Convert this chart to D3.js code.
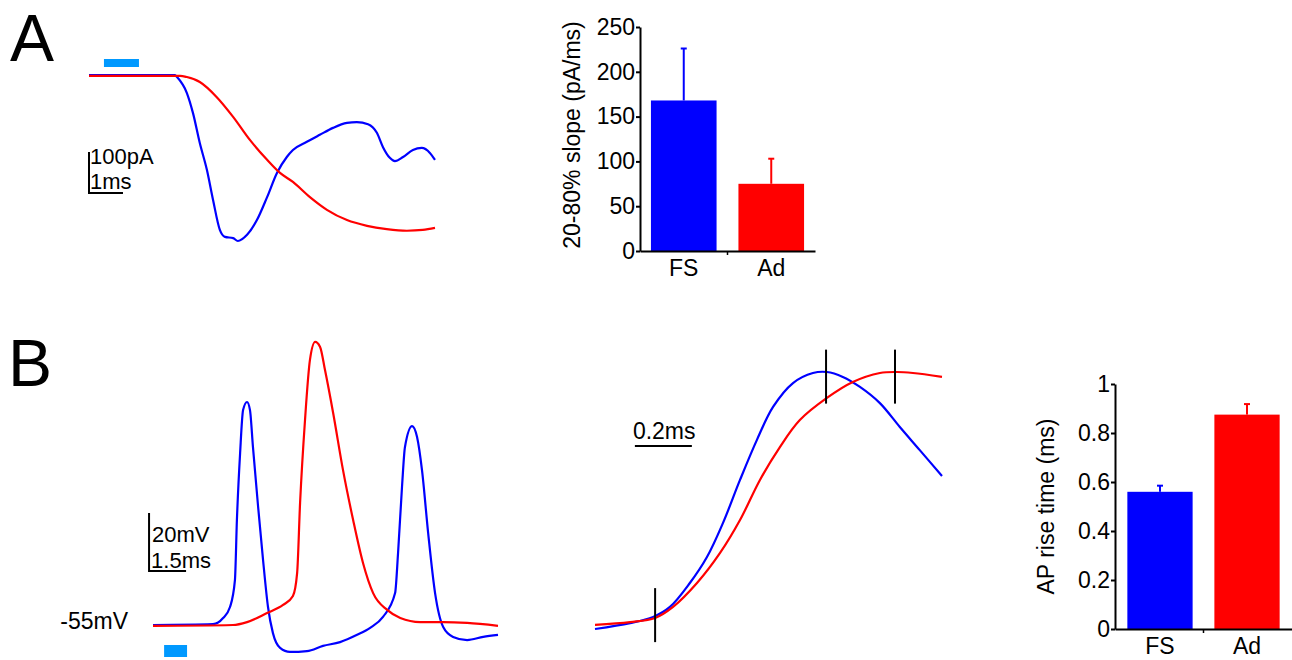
<!DOCTYPE html>
<html>
<head>
<meta charset="utf-8">
<script src="https://cdn.jsdelivr.net/npm/d3@7"></script>
<style>
  body { margin: 0; background: #fff; }
  svg { display: block; font-family: "Liberation Sans", Arial, sans-serif; }
</style>
</head>
<body>
<div id="chart"></div>
<script>
// ---- data ----
// panel A: evoked currents, [time ms, current pA]
var curA_FS = [[0,0],[2.53,0],[2.59,-5],[2.88,-44],[3.06,-93],[3.26,-166],[3.47,-232],[3.65,-305],[3.85,-378],[4.0,-395],
  [4.24,-398],[4.38,-405],[4.65,-390],[4.94,-354],[5.24,-298],[5.53,-239],[5.82,-200],[6.0,-183],[6.41,-163],[6.79,-146],
  [7.18,-129],[7.59,-117],[7.88,-115],[8.21,-120],[8.47,-141],[8.65,-176],[8.85,-202],[9.0,-210],[9.24,-200],[9.53,-183],
  [9.79,-178],[10.03,-190],[10.18,-207]];
var curA_Ad = [[0,-2],[2.68,-2],[2.88,-5],[3.26,-17],[3.76,-54],[4.24,-102],[4.74,-159],[5.24,-207],[5.62,-239],[6.0,-261],
  [6.5,-298],[7.0,-329],[7.59,-354],[8.18,-368],[8.76,-376],[9.35,-380],[9.82,-378],[10.18,-373]];
var stimA = [0.44, 1.47];

// panel A bars
var groups = ["FS", "Ad"];
var slopeMean = [168, 75];
var slopeErr = [58, 28];
var slopeTicks = [0, 50, 100, 150, 200, 250];

// panel B: membrane potential, [time ms, mV]
var vB_FS = [[0,-55],[2.43,-54.7],[2.84,-52.6],[3.12,-48.8],[3.32,-39.5],[3.40,-18.8],[3.53,4.3],[3.65,19.1],[3.81,21.9],
  [3.93,19.1],[4.05,6.4],[4.26,-14.3],[4.46,-32.6],[4.66,-48.8],[4.86,-57.8],[5.15,-62.9],[5.55,-64.3],[6.24,-64.0],
  [6.89,-62.2],[7.58,-60.9],[8.27,-58.4],[8.80,-56.0],[9.32,-52.2],[9.81,-44.0],[9.93,-30.2],[10.09,-7.4],[10.21,6.4],
  [10.50,13.6],[10.70,9.8],[10.90,-1.6],[11.15,-23.3],[11.43,-44.0],[11.76,-55.7],[12.16,-59.1],[12.73,-60.2],
  [13.38,-59.1],[13.98,-58.4]];
var vB_Ad = [[0,-55.3],[3.24,-55],[3.81,-54],[4.62,-50.9],[5.27,-48.1],[5.67,-45],[5.84,-37.1],[5.96,-12.9],[6.16,15.7],
  [6.36,36.4],[6.57,42.6],[6.77,40.9],[6.97,32.9],[7.30,18.1],[7.70,-1.6],[8.11,-18.8],[8.51,-33.6],[8.92,-44.0],
  [9.49,-49.8],[10.02,-52.6],[10.83,-54],[11.76,-54],[12.73,-54.3],[13.98,-55.3]];
var stimB = [0.45, 1.38];

// panel B middle: AP upstroke, [time ms, normalised amplitude]
var rise_FS = [[0,0],[0.123,0.023],[0.204,0.047],[0.263,0.086],[0.333,0.179],[0.393,0.280],[0.449,0.412],[0.509,0.580],
  [0.568,0.735],[0.625,0.864],[0.695,0.957],[0.765,0.996],[0.814,1.0],[0.870,0.981],[0.930,0.942],[1.0,0.879],
  [1.070,0.786],[1.140,0.696],[1.218,0.595]];
var rise_Ad = [[0,0.016],[0.123,0.027],[0.211,0.043],[0.274,0.086],[0.358,0.179],[0.439,0.296],[0.509,0.424],[0.579,0.580],
  [0.649,0.708],[0.719,0.813],[0.814,0.899],[0.905,0.961],[1.0,0.996],[1.060,1.0],[1.116,0.996],[1.218,0.981]];
var riseMarks = [[0.211, 0.054], [0.811, 0.982], [1.053, 0.982]];

// panel B bars
var riseMean = [0.56, 0.875];
var riseErr = [0.025, 0.043];
var riseTicks = [0, 0.2, 0.4, 0.6, 0.8, 1];

var colors = ["#0000ff", "#ff0000"];
var stimColor = "#0099ff";
var fs = 23;

var svg = d3.select("#chart").append("svg")
    .attr("width", 1292)
    .attr("height", 660);

svg.append("rect").attr("width", 1292).attr("height", 660).attr("fill", "#fff");

// panel letters
svg.append("text").attr("x", 10).attr("y", 61).attr("font-size", 66).text("A");
svg.append("text").attr("x", 8).attr("y", 386).attr("font-size", 66).text("B");

function trace(g, data, x, y, color, curve){
    var line = d3.line()
        .x(d => x(d[0]))
        .y(d => y(d[1]))
        .curve(curve || d3.curveMonotoneX);
    g.append("path")
        .attr("d", line(data))
        .attr("fill", "none")
        .attr("stroke", color)
        .attr("stroke-width", 2.2)
        .attr("stroke-linejoin", "round");
}

// ---- panel A traces ----
var xA = d3.scaleLinear().domain([0, 10.18]).range([89, 435]);
var yA = d3.scaleLinear().domain([0, -405]).range([75, 241]);
var gA = svg.append("g");

gA.append("rect")
    .attr("x", xA(stimA[0]))
    .attr("width", xA(stimA[1]) - xA(stimA[0]))
    .attr("y", yA(0) - 16).attr("height", 8)
    .attr("fill", stimColor);

trace(gA, curA_FS, xA, yA, colors[0]);
trace(gA, curA_Ad, xA, yA, colors[1]);

// scale bar 100pA / 1ms
gA.append("path")
    .attr("d", "M" + xA(0) + "," + yA(-188) + "V" + yA(-288) + "H" + xA(1))
    .attr("fill", "none").attr("stroke", "#000").attr("stroke-width", 2);
gA.append("text").attr("x", xA(0) + 1).attr("y", yA(-188) + 12).attr("font-size", 22).text("100pA");
gA.append("text").attr("x", xA(0) + 1).attr("y", yA(-288) - 4).attr("font-size", 22).text("1ms");

// ---- bar chart helper ----
function barChart(opt){
    var g = svg.append("g");
    var x = d3.scaleBand().domain(groups).range(opt.xr)
        .paddingInner(0.25).paddingOuter(opt.outer);
    var y = d3.scaleLinear().domain([0, opt.max]).range(opt.yr);

    g.selectAll("rect.bar")
        .data(groups)
        .enter().append("rect")
        .attr("class", "bar")
        .attr("x", d => x(d))
        .attr("width", x.bandwidth())
        .attr("y", (d, i) => y(opt.mean[i]))
        .attr("height", (d, i) => y(0) - y(opt.mean[i]))
        .attr("fill", (d, i) => colors[i]);

    // upper error bars
    var eb = g.selectAll("g.err").data(groups).enter().append("g").attr("class", "err");
    eb.append("line")
        .attr("x1", d => x(d) + x.bandwidth() / 2)
        .attr("x2", d => x(d) + x.bandwidth() / 2)
        .attr("y1", (d, i) => y(opt.mean[i]))
        .attr("y2", (d, i) => y(opt.mean[i] + opt.err[i]))
        .attr("stroke", (d, i) => colors[i]).attr("stroke-width", 2);
    eb.append("line")
        .attr("x1", d => x(d) + x.bandwidth() / 2 - 3)
        .attr("x2", d => x(d) + x.bandwidth() / 2 + 3)
        .attr("y1", (d, i) => y(opt.mean[i] + opt.err[i]))
        .attr("y2", (d, i) => y(opt.mean[i] + opt.err[i]))
        .attr("stroke", (d, i) => colors[i]).attr("stroke-width", 2);

    var yAxis = g.append("g")
        .attr("transform", "translate(" + opt.xr[0] + ",0)")
        .call(d3.axisLeft(y).tickValues(opt.ticks).tickFormat(d => String(d))
            .tickSize(4).tickSizeOuter(0).tickPadding(1));
    var xAxis = g.append("g")
        .attr("transform", "translate(0," + opt.yr[0] + ")")
        .call(d3.axisBottom(x).tickSize(0).tickPadding(9).tickSizeOuter(0));

    [yAxis, xAxis].forEach(function(a){
        a.select(".domain").attr("stroke-width", 2);
        a.selectAll(".tick line").attr("stroke-width", 2);
        a.selectAll("text").attr("font-size", fs).attr("font-family", "Liberation Sans, Arial, sans-serif").attr("fill", "#000");
    });

    // small tick between the two groups
    var mid = (x(groups[0]) + x.bandwidth() + x(groups[1])) / 2;
    g.append("line")
        .attr("x1", mid).attr("x2", mid)
        .attr("y1", opt.yr[0]).attr("y2", opt.yr[0] + 4)
        .attr("stroke", "#000").attr("stroke-width", 1.5);

    g.append("text")
        .attr("transform", "translate(" + opt.labelX + "," + ((opt.yr[0] + opt.yr[1]) / 2 + opt.labelDy) + ") rotate(-90)")
        .attr("text-anchor", "middle")
        .attr("font-size", fs)
        .text(opt.label);
}

barChart({xr: [640, 815], outer: 0.125, yr: [251, 27], max: 250,
    mean: slopeMean, err: slopeErr, ticks: slopeTicks,
    label: "20-80% slope (pA/ms)", labelX: 580, labelDy: -4});

// ---- panel B traces ----
var xB = d3.scaleLinear().domain([0, 13.98]).range([153, 498]);
var yB = d3.scaleLinear().domain([-55, 0]).range([625, 465.5]);
var gB = svg.append("g");

gB.append("rect")
    .attr("x", xB(stimB[0]))
    .attr("width", xB(stimB[1]) - xB(stimB[0]))
    .attr("y", yB(-55) + 20).attr("height", 12)
    .attr("fill", stimColor);

trace(gB, vB_FS, xB, yB, colors[0]);
trace(gB, vB_Ad, xB, yB, colors[1]);

gB.append("text").attr("x", 128).attr("y", yB(-55) + 4)
    .attr("text-anchor", "end").attr("font-size", fs).text("-55mV");

// scale bar 20mV / 1.5ms
gB.append("path")
    .attr("d", "M" + xB(-0.16) + "," + yB(-16.4) + "V" + yB(-36.4) + "H" + xB(1.34))
    .attr("fill", "none").attr("stroke", "#000").attr("stroke-width", 2);
gB.append("text").attr("x", xB(-0.16) + 3).attr("y", yB(-16.4) + 29).attr("font-size", 22).text("20mV");
gB.append("text").attr("x", xB(-0.16) + 2).attr("y", yB(-36.4) - 3).attr("font-size", 22).text("1.5ms");

// ---- panel B middle: rise ----
var xM = d3.scaleLinear().domain([0, 1.218]).range([595, 942]);
var yM = d3.scaleLinear().domain([0, 1]).range([629, 372]);
var gM = svg.append("g");

trace(gM, rise_FS, xM, yM, colors[0], d3.curveCatmullRom.alpha(0.5));
trace(gM, rise_Ad, xM, yM, colors[1], d3.curveCatmullRom.alpha(0.5));

gM.selectAll("line.mark")
    .data(riseMarks)
    .enter().append("line")
    .attr("class", "mark")
    .attr("x1", d => xM(d[0])).attr("x2", d => xM(d[0]))
    .attr("y1", d => yM(d[1]) - 27).attr("y2", d => yM(d[1]) + 27)
    .attr("stroke", "#000").attr("stroke-width", 2);

gM.append("line")
    .attr("x1", xM(0.14)).attr("x2", xM(0.34))
    .attr("y1", yM(0.712)).attr("y2", yM(0.712))
    .attr("stroke", "#000").attr("stroke-width", 2);
gM.append("text").attr("x", xM(0.14) - 2).attr("y", yM(0.712) - 7)
    .attr("font-size", fs).text("0.2ms");

barChart({xr: [1115, 1292], outer: 0.142, yr: [629, 384], max: 1,
    mean: riseMean, err: riseErr, ticks: riseTicks,
    label: "AP rise time (ms)", labelX: 1054, labelDy: 0});
</script>
</body>
</html>
